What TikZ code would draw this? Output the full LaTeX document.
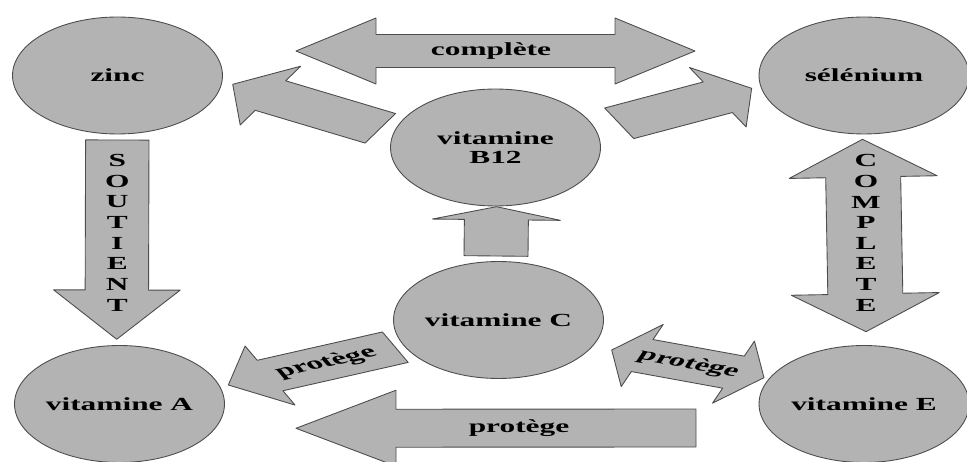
\documentclass[tikz,border=0pt]{standalone}
\usepackage{fontspec}
\setmainfont{Liberation Serif}[FakeStretch=1.7]
\usetikzlibrary{shapes.geometric, calc}

\definecolor{shapegray}{RGB}{179,179,179}
\newcommand{\pxl}{0.02cm}

% block arrow from #1 (tail) to #2 (tip): half shaft, half head, head length, slant, extra content
\newcommand{\fatarrow}[7]{%
  \path let \p1=($(#2)-(#1)$) in
    \pgfextra{\pgfmathsetmacro{\arang}{atan2(\y1,\x1)}\xdef\arang{\arang}%
              \pgfmathsetmacro{\arlen}{veclen(\x1,\y1)}\xdef\arlen{\arlen}};
  \begin{scope}[shift={(#1)}, rotate=\arang, xslant=#6]
    \draw[blockarrow] (0pt,{#3*\pxl}) -- ({\arlen pt-#5*\pxl},{#3*\pxl})
      -- ({\arlen pt-#5*\pxl},{#4*\pxl}) -- (\arlen pt,0pt)
      -- ({\arlen pt-#5*\pxl},{-#4*\pxl}) -- ({\arlen pt-#5*\pxl},{-#3*\pxl})
      -- (0pt,{-#3*\pxl}) -- cycle;
    #7
  \end{scope}}

% double block arrow between #1 and #2
\newcommand{\fatdarrow}[7]{%
  \path let \p1=($(#2)-(#1)$) in
    \pgfextra{\pgfmathsetmacro{\arang}{atan2(\y1,\x1)}\xdef\arang{\arang}%
              \pgfmathsetmacro{\arlen}{veclen(\x1,\y1)}\xdef\arlen{\arlen}};
  \begin{scope}[shift={(#1)}, rotate=\arang, xslant=#6]
    \draw[blockarrow] (0pt,0pt) -- ({#5*\pxl},{#4*\pxl}) -- ({#5*\pxl},{#3*\pxl})
      -- ({\arlen pt-#5*\pxl},{#3*\pxl}) -- ({\arlen pt-#5*\pxl},{#4*\pxl})
      -- (\arlen pt,0pt)
      -- ({\arlen pt-#5*\pxl},{-#4*\pxl}) -- ({\arlen pt-#5*\pxl},{-#3*\pxl})
      -- ({#5*\pxl},{-#3*\pxl}) -- ({#5*\pxl},{-#4*\pxl}) -- cycle;
    #7
  \end{scope}}

\tikzset{
  labeltext/.style={font=\fontsize{10.5}{10.8}\selectfont\bfseries},
  bubble/.style={ellipse, draw=black!70, fill=shapegray, line width=0.5pt,
    minimum width=4.2cm, minimum height=2.34cm, inner sep=0pt, align=center, labeltext},
  blockarrow/.style={draw=black!70, fill=shapegray, line width=0.5pt, line join=round},
  arrowtext/.style={labeltext, inner sep=0pt, transform shape},
  vletter/.style={labeltext, inner sep=0pt}
}

\begin{document}
\begin{tikzpicture}[x=0.02cm, y=-0.02cm]
  \useasboundingbox (0,0) rectangle (967,462);
  \clip (0,0) rectangle (967,462);

  % Arrow ends
  \coordinate (cmpL) at (296,51);
  \coordinate (cmpR) at (695,51);
  \coordinate (bzT) at (380.3,128.3);
  \coordinate (bzH) at (232.7,84.3);
  \coordinate (bsT) at (619.2,123.3);
  \coordinate (bsH) at (751.7,88.3);
  \coordinate (cbT) at (496,256);
  \coordinate (cbH) at (496.5,206.7);
  \coordinate (soutT) at (117.3,140);
  \coordinate (soutH) at (116.7,339.3);
  \coordinate (cmplT) at (862.5,139.3);
  \coordinate (cmplB) at (866,331.7);
  \coordinate (caT) at (395.3,347.2);
  \coordinate (caH) at (228.3,385);
  \coordinate (ceL) at (611.7,350);
  \coordinate (ceR) at (764,377.7);
  \coordinate (eaT) at (696,428);
  \coordinate (eaH) at (296,428.3);

  % Block arrows
  \fatdarrow{cmpL}{cmpR}{16.5}{33}{80}{0}{\node[arrowtext] (complete) at (195,0) {complète};}
  \fatarrow{bzT}{bzH}{18.5}{36.8}{39.4}{0.56}{}
  \fatarrow{bsT}{bsH}{18.5}{36}{35}{-0.55}{}
  \fatarrow{cbT}{cbH}{32}{64}{13}{0}{}
  \fatarrow{soutT}{soutH}{31.7}{63.3}{49.3}{0}{}
  \fatdarrow{cmplT}{cmplB}{37.5}{74}{37.8}{0}{}
  \fatarrow{caT}{caH}{17.7}{34.3}{42.8}{-0.52}{\node[arrowtext, rotate=180] (protA) at (71,0) {protège};}
  \fatdarrow{ceL}{ceR}{17.7}{34.3}{31}{0.44}{\node[arrowtext] (protE) at (78,0) {protège};}
  \fatarrow{eaT}{eaH}{19}{38}{100}{0}{\node[arrowtext, rotate=180] (protEA) at (177,0) {protège};}

  % Vertical words
  \foreach \l [count=\i] in {S,O,U,T,I,E,N,T}
    \node[vletter] (sout\i) at (117.3,{160.8+(\i-1)*20.6}) {\l};
  \foreach \l [count=\i] in {C,O,M,P,L,E,T,E}
    \node[vletter] (cmpl\i) at (866,{160.8+(\i-1)*20.6}) {\l};

  % Vitamins and minerals
  \node[bubble] (zinc) at (117.5,75.5) {zinc};
  \node[bubble] (selenium) at (864,75.5) {sélénium};
  \node[bubble] (vitB) at (495.5,147.5) {vitamine\\B12};
  \node[bubble] (vitC) at (498.5,320) {vitamine C};
  \node[bubble] (vitA) at (119.5,404) {vitamine A};
  \node[bubble] (vitE) at (864,404) {vitamine E};
\end{tikzpicture}
\end{document}
